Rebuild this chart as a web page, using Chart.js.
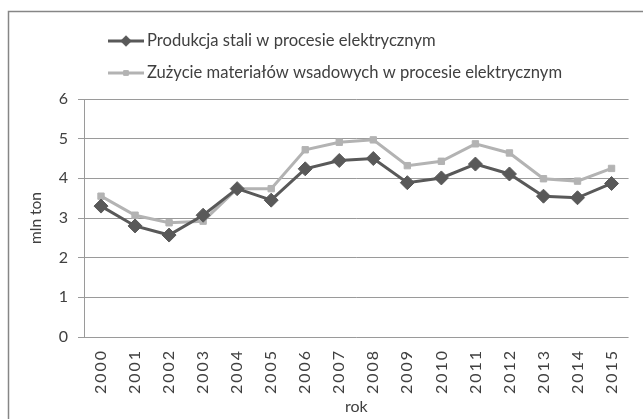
<!DOCTYPE html>
<html>
<head>
<meta charset="utf-8">
<script src="https://cdn.jsdelivr.net/npm/chart.js@4/dist/chart.umd.min.js"></script>
<style>
  html, body { margin: 0; padding: 0; background: #fff; }
  #wrap { width: 643px; height: 419px; position: relative; }
</style>
</head>
<body>
<div id="wrap"><canvas id="c" width="643" height="419"></canvas></div>
<script>
const years = ['2000','2001','2002','2003','2004','2005','2006','2007','2008','2009','2010','2011','2012','2013','2014','2015'];
const produkcja = [3.30, 2.80, 2.57, 3.07, 3.74, 3.45, 4.24, 4.45, 4.50, 3.89, 4.01, 4.36, 4.11, 3.55, 3.51, 3.87];
const zuzycie   = [3.55, 3.07, 2.88, 2.92, 3.74, 3.74, 4.72, 4.91, 4.97, 4.32, 4.43, 4.87, 4.64, 3.99, 3.93, 4.25];
const yTicks = [0, 1, 2, 3, 4, 5, 6];
const seriesNames = ['Produkcja stali w procesie elektrycznym', 'Zużycie materiałów wsadowych w procesie elektrycznym'];

const FONT = "Lato, 'Open Sans', sans-serif";
const TXT = '#404040';

const frame = {
  id: 'frame',
  beforeDraw(chart) {
    const ctx = chart.ctx;
    ctx.save();
    ctx.strokeStyle = '#868686';
    ctx.lineWidth = 1.5;
    ctx.strokeRect(8.5, 11.5, 800, 600);
    ctx.restore();
  }
};

// widen the rotated year labels a little (letter spacing) like the reference
const xLabelSpacing = {
  id: 'xLabelSpacing',
  afterUpdate(chart) {
    const s = chart.scales.x;
    if (s && !s._spacingPatched && typeof s.drawLabels === 'function') {
      const orig = s.drawLabels.bind(s);
      s.drawLabels = function (ca) {
        const ctx = this.ctx;
        const prev = ctx.letterSpacing;
        ctx.letterSpacing = '2px';
        orig(ca);
        ctx.letterSpacing = prev || '0px';
      };
      s._spacingPatched = true;
    }
  }
};

const customLegend = {
  id: 'customLegend',
  afterDraw(chart) {
    const ctx = chart.ctx;
    const rows = [41, 73];
    chart.data.datasets.forEach((ds, i) => {
      const y = rows[i];
      ctx.save();
      ctx.strokeStyle = ds.borderColor;
      ctx.lineWidth = ds.borderWidth;
      ctx.beginPath();
      ctx.moveTo(108, y);
      ctx.lineTo(144, y);
      ctx.stroke();
      ctx.fillStyle = ds.pointBackgroundColor;
      ctx.strokeStyle = ds.pointBorderColor;
      ctx.lineWidth = 1;
      Chart.helpers.drawPoint(ctx, {
        pointStyle: ds.pointStyle,
        radius: ds.pointRadius * 0.75,
        rotation: 0,
        borderWidth: 1
      }, 126, y);
      ctx.restore();
      ctx.save();
      ctx.fillStyle = TXT;
      ctx.font = '16.6px ' + FONT;
      ctx.textBaseline = 'middle';
      ctx.textAlign = 'left';
      ctx.fillText(ds.label, 147, y);
      ctx.restore();
    });
  }
};

new Chart(document.getElementById('c'), {
  type: 'line',
  data: {
    labels: years,
    datasets: [
      {
        label: seriesNames[0],
        data: produkcja,
        borderColor: '#595959',
        backgroundColor: '#595959',
        pointBackgroundColor: '#595959',
        pointBorderColor: '#595959',
        borderWidth: 3,
        pointStyle: 'rectRot',
        pointRadius: 7,
        pointBorderWidth: 1,
        tension: 0
      },
      {
        label: seriesNames[1],
        data: zuzycie,
        borderColor: '#b3b3b3',
        backgroundColor: '#b3b3b3',
        pointBackgroundColor: '#b3b3b3',
        pointBorderColor: '#b3b3b3',
        borderWidth: 3,
        pointStyle: 'rect',
        pointRadius: 4.5,
        pointBorderWidth: 1,
        tension: 0
      }
    ]
  },
  options: {
    responsive: false,
    animation: false,
    devicePixelRatio: 1,
    layout: { padding: { left: 0, top: 99, right: 6, bottom: 0 } },
    plugins: {
      legend: { display: false },
      tooltip: { enabled: false }
    },
    scales: {
      x: {
        offset: true,
        grid: { display: false, drawTicks: false },
        border: { display: false },
        ticks: {
          color: TXT,
          font: { family: FONT, size: 16 },
          maxRotation: 90,
          minRotation: 90,
          padding: 12,
          autoSkip: false
        },
        title: {
          display: true,
          text: 'rok',
          color: TXT,
          font: { family: FONT, size: 16 },
          padding: { top: 0, bottom: 3 }
        },
        afterFit(scale) { scale.height = 82; }
      },
      y: {
        min: 0,
        max: 6,
        afterBuildTicks(scale) { scale.ticks = yTicks.map(v => ({ value: v })); },
        grid: { color: '#9a9a9a', lineWidth: 1, tickLength: 6 },
        border: { color: '#9a9a9a', width: 1 },
        ticks: {
          color: TXT,
          font: { family: FONT, size: 16 },
          padding: 10
        },
        title: {
          display: true,
          text: 'mln ton',
          color: TXT,
          font: { family: FONT, size: 15.5 },
          padding: { top: 27, bottom: 0 }
        },
        afterFit(scale) { scale.width = 84; }
      }
    }
  },
  plugins: [frame, xLabelSpacing, customLegend]
});
</script>
</body>
</html>
